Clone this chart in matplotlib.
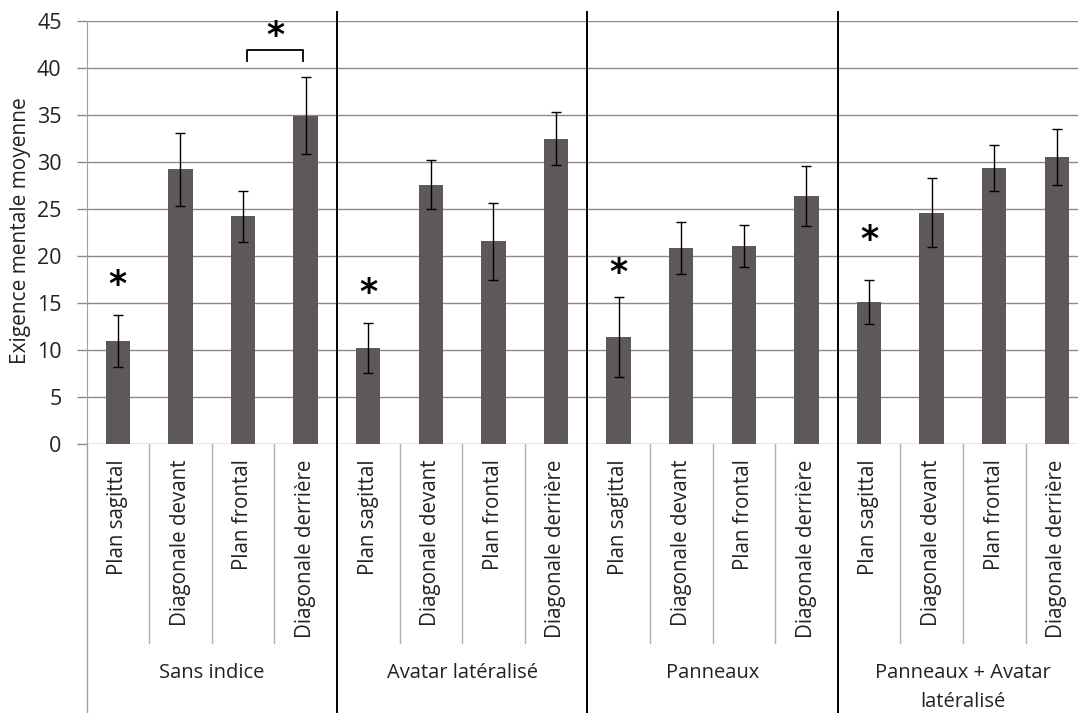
import matplotlib
matplotlib.use("Agg")
import matplotlib.pyplot as plt
import matplotlib.transforms as mtransforms

plt.rcParams['font.family'] = ['Open Sans', 'DejaVu Sans']

# data
groups = ["Sans indice", "Avatar latéralisé", "Panneaux", "Panneaux + Avatar\nlatéralisé"]
conditions = ["Plan sagittal", "Diagonale devant", "Plan frontal", "Diagonale derrière"]
means = [11.0, 29.2, 24.2, 34.9,
         10.2, 27.55, 21.55, 32.45,
         11.45, 20.85, 21.05, 26.35,
         15.1, 24.6, 29.35, 30.5]
errors = [2.75, 3.9, 2.75, 4.1,
          2.65, 2.6, 4.05, 2.8,
          4.25, 2.77, 2.2, 3.2,
          2.35, 3.65, 2.45, 2.95]
# significance stars: (bar index, y)
stars = [(0, 16.9), (4, 16.1), (8, 18.2), (12, 21.7)]
bracket_bars = (2, 3)
bracket_y = (40.7, 41.9)
bracket_star_y = 43.4

W, H = 1078, 713
fig = plt.figure(figsize=(W / 100, H / 100), dpi=100)
x0, x1 = 86.5, 86.5 + 16 * 62.6
y0, y1 = 444.3, 20.7
ax = fig.add_axes([x0 / W, (H - y0) / H, (x1 - x0) / W, (y0 - y1) / H])

n = len(means)
xs = [i + 0.5 for i in range(n)]
ax.bar(xs, means, width=0.39, color="#5e5958", zorder=3)
ax.errorbar(xs, means, yerr=errors, fmt="none", ecolor="black", elinewidth=1.0,
            capsize=3.6, capthick=1.0, zorder=4)

ax.set_xlim(0, n)
ax.set_ylim(0, 45)
ax.set_yticks(range(0, 46, 5))
ax.yaxis.grid(True, color="#8a8a8a", linewidth=1.0, zorder=0)
ax.set_axisbelow(True)
for s in ["top", "right", "bottom"]:
    ax.spines[s].set_visible(False)
ax.spines["left"].set_color("#a0a0a0")
ax.spines["left"].set_bounds(0, 45)
ax.tick_params(axis="y", length=7, width=1, color="#8a8a8a", labelsize=15.5,
               labelcolor="#222222", pad=11)
ax.set_xticks([])
fig.text(21 / W, 1 - 231 / H, "Exigence mentale moyenne", rotation=90, ha="center",
         va="center", fontsize=15, color="#222222")

trans = mtransforms.blended_transform_factory(ax.transData, ax.transAxes)
px = 1.0 / (y0 - y1)  # one pixel in axes units

# left axis extension below the plot
ax.plot([0, 0], [0, -(H - y0) * px], transform=trans, color="#a0a0a0", lw=1.0, clip_on=False)
# category separators and group separators
for i in range(1, n):
    if i % 4 == 0:
        ax.plot([i, i], [1 + 9 * px, -(H - y0) * px], transform=trans, color="black",
                lw=1.4, clip_on=False, zorder=5)
    else:
        ax.plot([i, i], [0, -199 * px], transform=trans, color="#b0b0b0",
                lw=1.0, clip_on=False)

# category labels
for i, x in enumerate(xs):
    ax.text(x, -15 * px, conditions[i % 4], rotation=90, ha="center", va="top",
            fontsize=14.8, color="#222222", transform=trans)
# group labels
for g, name in enumerate(groups):
    ax.text(g * 4 + 2, -219 * px, name, ha="center", va="top", fontsize=14.5,
            color="#222222", transform=trans, linespacing=1.55)

# stars
for bi, y in stars:
    ax.text(xs[bi], y, "*", ha="center", va="center", fontsize=25,
            fontweight="bold", family="DejaVu Sans", zorder=6)
bx0, bx1 = xs[bracket_bars[0]] + 0.07, xs[bracket_bars[1]] - 0.04
ax.plot([bx0, bx0, bx1, bx1], [bracket_y[0], bracket_y[1], bracket_y[1], bracket_y[0]],
        color="black", lw=1.3, clip_on=False, zorder=6)
ax.text((bx0 + bx1) / 2, bracket_star_y, "*", ha="center", va="center", fontsize=25,
        fontweight="bold", family="DejaVu Sans", zorder=6)

fig.savefig("out.png", dpi=100)
